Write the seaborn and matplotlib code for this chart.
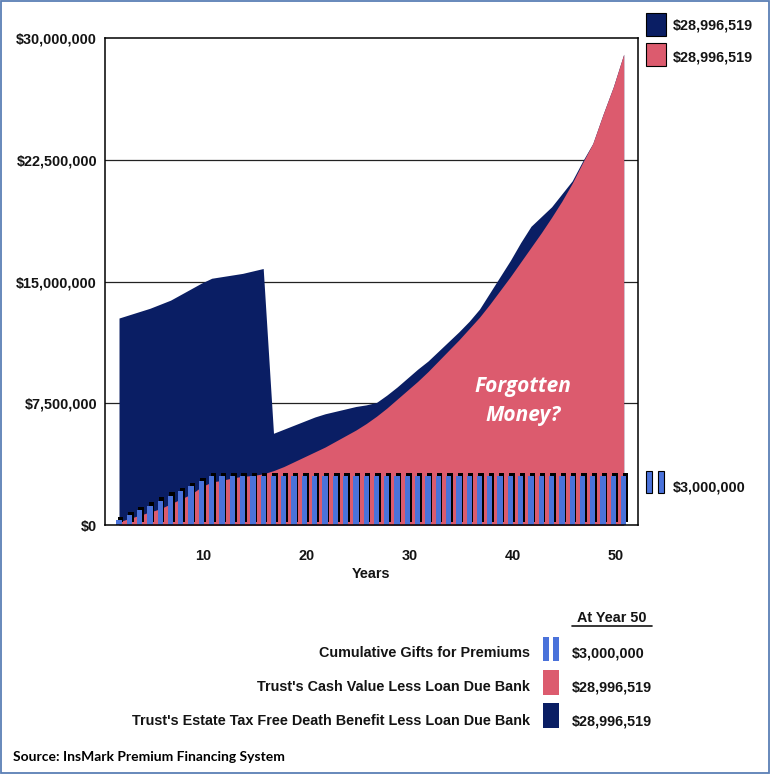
import numpy as np
import matplotlib
matplotlib.use("Agg")
import matplotlib.pyplot as plt
import matplotlib.patheffects as pe
from matplotlib.patches import Rectangle
from matplotlib.lines import Line2D
from matplotlib.ticker import FuncFormatter
import seaborn as sns

# ---------------- data (values in $ millions) ----------------
years = list(range(1, 51))
gifts_m = [0.3, 0.6, 0.9, 1.2, 1.5, 1.8, 2.1, 2.4, 2.7, 3.0,
           3.0, 3.0, 3.0, 3.0, 3.0, 3.0, 3.0, 3.0, 3.0, 3.0,
           3.0, 3.0, 3.0, 3.0, 3.0, 3.0, 3.0, 3.0, 3.0, 3.0,
           3.0, 3.0, 3.0, 3.0, 3.0, 3.0, 3.0, 3.0, 3.0, 3.0,
           3.0, 3.0, 3.0, 3.0, 3.0, 3.0, 3.0, 3.0, 3.0, 3.0]
cash_m = [0.2, 0.4, 0.6, 0.8, 1.0, 1.3, 1.6, 1.9, 2.35, 2.65,
          2.75, 2.9, 3.0, 3.05, 3.15, 3.35, 3.6, 3.9, 4.2, 4.5,
          4.8, 5.15, 5.5, 5.85, 6.25, 6.7, 7.2, 7.75, 8.3, 8.85,
          9.45, 10.1, 10.75, 11.4, 12.1, 12.8, 13.6, 14.45, 15.3, 16.2,
          17.1, 18.0, 18.95, 19.95, 21.05, 22.3, 23.5, 25.3, 27.0, 28.996519]
death_m = [12.75, 12.95, 13.15, 13.35, 13.6, 13.85, 14.2, 14.55, 14.9, 15.2,
           15.3, 15.4, 15.5, 15.65, 15.8, 5.65, 5.9, 6.15, 6.4, 6.65,
           6.85, 7.0, 7.15, 7.3, 7.4, 7.55, 8.0, 8.5, 9.05, 9.6,
           10.1, 10.7, 11.3, 11.9, 12.55, 13.3, 14.3, 15.3, 16.3, 17.4,
           18.4, 19.0, 19.6, 20.4, 21.2, 22.4, 23.5, 25.3, 27.0, 28.996519]

ytick_vals = [0, 7.5e6, 15e6, 22.5e6, 30e6]
xtick_vals = [10, 20, 30, 40, 50]
series_labels = ["Cumulative Gifts for Premiums",
                 "Trust's Cash Value Less Loan Due Bank",
                 "Trust's Estate Tax Free Death Benefit Less Loan Due Bank"]
annotation = "Forgotten\nMoney?"
source_text = "Source: InsMark Premium Financing System"
legend_title = "At Year 50"

NAVY = "#0A1E64"
PINK = "#DC5B6E"
BLUE = "#4A72DA"
TXT = "#141414"
FS = 10.4

x = np.array(years)
gifts = np.array(gifts_m) * 1e6
cash = np.array(cash_m) * 1e6
death = np.array(death_m) * 1e6

sns.set_theme(style="white")
plt.rcParams['font.family'] = ['Liberation Sans', 'DejaVu Sans']

W, H = 770, 774
fig = plt.figure(figsize=(W / 100, H / 100), dpi=100)
ax = fig.add_axes([105 / W, 1 - 525 / H, (638 - 105) / W, (525 - 38) / H])

# grid behind areas
ax.set_axisbelow(True)
for v in ytick_vals[1:-1]:
    ax.axhline(v, color="#222222", lw=0.9, zorder=0.5)

ax.fill_between(x, death, 0, color=NAVY, lw=0, zorder=1)
ax.fill_between(x, cash, 0, color=PINK, lw=0, zorder=1.2)

shadow = [pe.SimplePatchShadow(offset=(1.1, 2.4), shadow_rgbFace="black", alpha=1.0),
          pe.Normal()]
sns.barplot(x=x, y=gifts, native_scale=True, width=0.52, color=BLUE, saturation=1,
            linewidth=0, errorbar=None, ax=ax, zorder=2, path_effects=shadow)

ax.set_ylim(0, 30e6)
ax.set_xlim(-0.36, 51.39)
ax.set_yticks(ytick_vals)
ax.yaxis.set_major_formatter(FuncFormatter(lambda v, p: "${:,.0f}".format(v)))
ax.set_xticks(xtick_vals)
ax.set_xticklabels([str(t) for t in xtick_vals])
for lbl in ax.get_xticklabels():
    lbl.set_ha("right")
ax.tick_params(axis="y", length=0, pad=5.8, labelsize=FS, labelcolor=TXT)
ax.tick_params(axis="x", length=0, pad=17.5, labelsize=FS, labelcolor=TXT)
for lbl in ax.get_xticklabels() + ax.get_yticklabels():
    lbl.set_fontweight("bold")
ax.set_xlabel("Years", fontsize=FS, fontweight="bold", color=TXT, labelpad=2.5)
ax.set_ylabel("")
for s in ax.spines.values():
    s.set_visible(True)
    s.set_color("black")
    s.set_linewidth(1.1)
    s.set_zorder(5)

# annotation (white italic)
fig.text(523 / W, 1 - 401 / H, annotation, ha="center", va="center", color="white",
         fontsize=15, fontweight="bold", fontstyle="italic", family=["Open Sans", "DejaVu Sans"],
         linespacing=1.45)


def frect(x0, y0, x1, y1, fc, ec="none", lw=0.0):
    fig.add_artist(Rectangle((x0 / W, 1 - y1 / H), (x1 - x0) / W, (y1 - y0) / H,
                             transform=fig.transFigure, fc=fc, ec=ec, lw=lw))


def ftext(xp, yp, s, ha="left", size=FS, **kw):
    fig.text(xp / W, 1 - yp / H, s, ha=ha, va="center", fontsize=size,
             fontweight="bold", color=TXT, **kw)


def money(v):
    return "${:,.0f}".format(v)


# right-side end-value legend
frect(646, 13, 666, 36, NAVY, "black", 0.8)
ftext(673, 25, money(death[-1]))
frect(646, 43, 666, 66, PINK, "black", 0.8)
ftext(673, 57, money(cash[-1]))
frect(646, 471, 652, 493, BLUE, "black", 0.8)
frect(658, 471, 664, 493, BLUE, "black", 0.8)
ftext(673, 487, money(gifts[-1]))

# bottom legend
ftext(612, 618, legend_title, ha="center")
fig.add_artist(Line2D([572 / W, 652 / W], [1 - 626 / H, 1 - 626 / H],
                      transform=fig.transFigure, color=TXT, lw=1.2))
rows_y = [653, 687, 721]
ftext(530, rows_y[0], series_labels[0], ha="right")
frect(543, 637, 549, 661, BLUE)
frect(553, 637, 559, 661, BLUE)
ftext(572, rows_y[0], money(gifts[-1]))
ftext(530, rows_y[1], series_labels[1], ha="right")
frect(543, 670, 559, 695, PINK)
ftext(572, rows_y[1], money(cash[-1]))
ftext(530, rows_y[2], series_labels[2], ha="right")
frect(543, 703, 559, 728, NAVY)
ftext(572, rows_y[2], money(death[-1]))

# source
fig.text(13 / W, 1 - 757 / H, source_text, ha="left", va="center", fontsize=10,
         fontweight="bold", color="black", family=["Lato", "DejaVu Sans"])

# picture border
fig.add_artist(Rectangle((0.8 / W, 0.8 / H), (W - 1.6) / W, (H - 1.6) / H,
                         transform=fig.transFigure, fc="none", ec="#5B7FB5", lw=1.3))

fig.savefig("out.png", dpi=100)
